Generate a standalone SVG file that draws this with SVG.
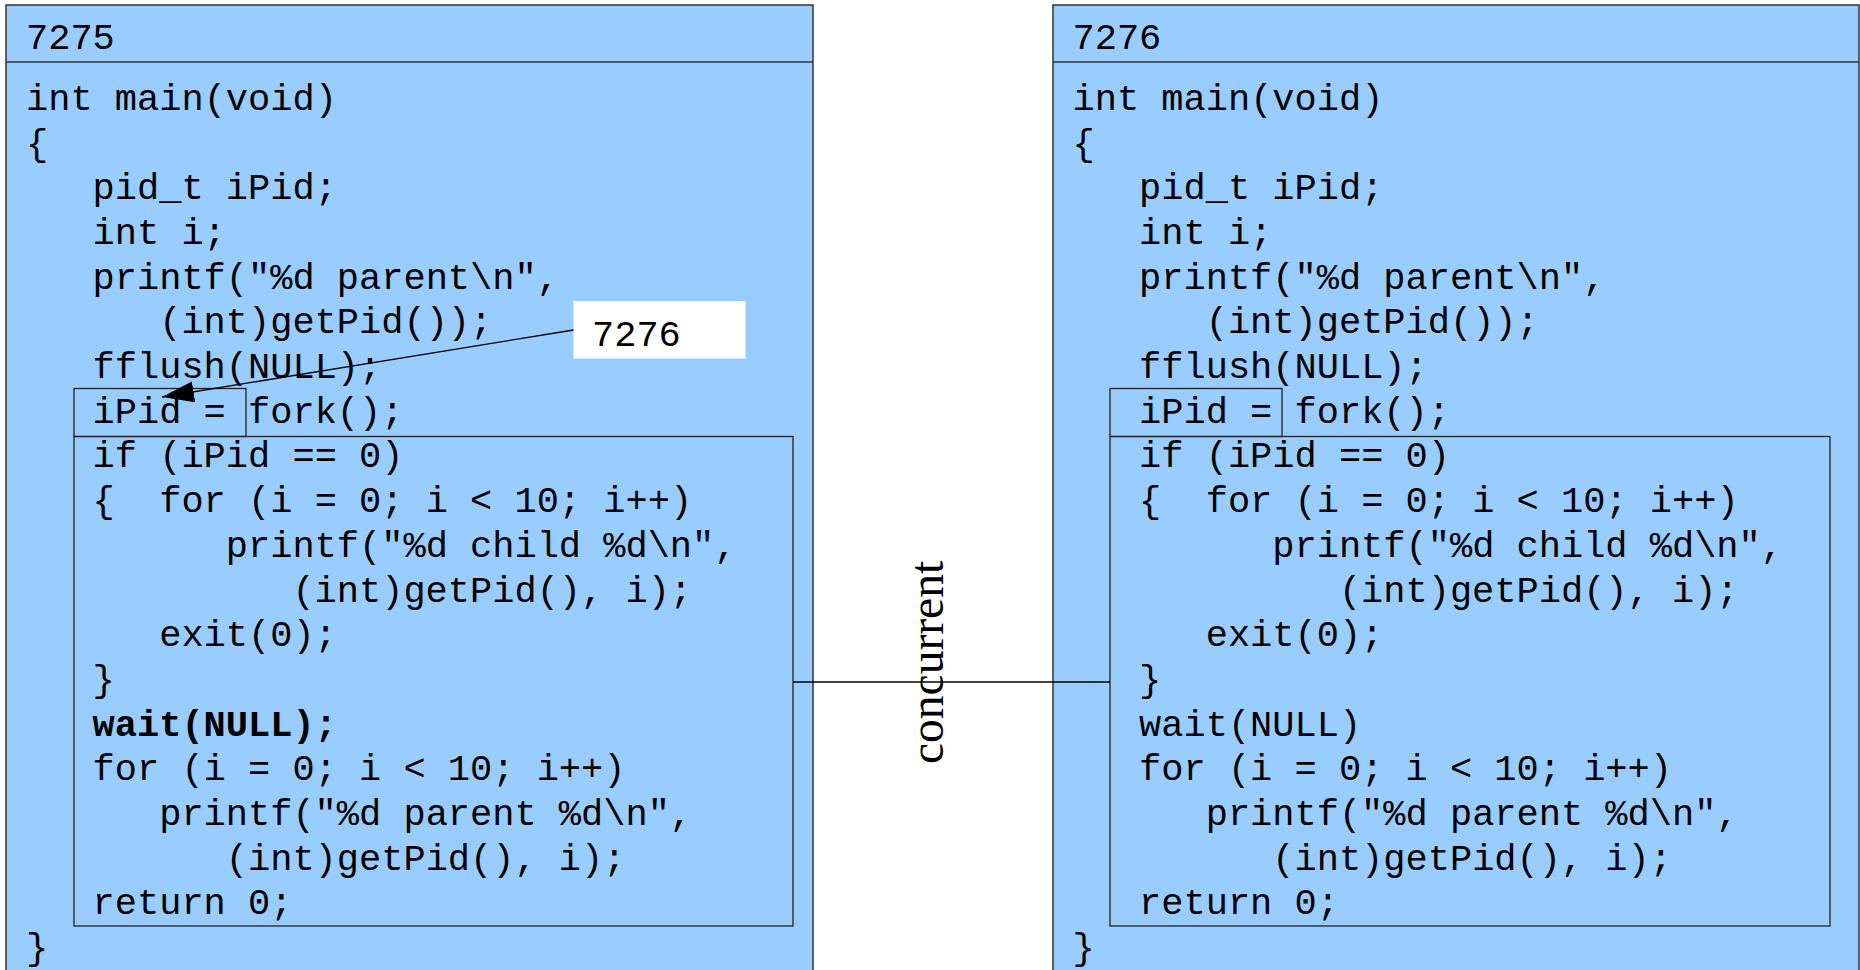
<svg xmlns="http://www.w3.org/2000/svg" width="1860" height="970" viewBox="0 0 1860 970">
<style>
.panel{fill:#99ccff;stroke:#333;stroke-width:1.5}
.hdr{stroke:#333;stroke-width:1.5}
.box{fill:none;stroke:#222;stroke-width:1.3}
.code{font-family:"Liberation Mono","Courier New",monospace;font-size:37px;fill:#000}
.bold{font-weight:bold}
.conn{stroke:#000;stroke-width:1.3;fill:none}
.lbl{font-family:"Liberation Serif","Times New Roman",serif;font-size:47.5px;fill:#000}
</style>
<defs>
<marker id="arr" markerUnits="userSpaceOnUse" markerWidth="34" markerHeight="22" refX="32" refY="10.5" orient="auto">
<path d="M0,0 L32,10.5 L0,21 z" fill="#000"/>
</marker>
</defs>
<rect width="1860" height="970" fill="#fff"/>

<g id="p7275">
<rect class="panel" x="6" y="5" width="807" height="980"/>
<line class="hdr" x1="6" y1="62" x2="813" y2="62"/>
<text class="code" x="26" y="49">7275</text>
<rect class="box" x="74" y="388.5" width="172" height="48"/>
<rect class="box" x="74" y="436.5" width="719" height="489.5"/>
<g class="code" transform="translate(2,1.5)">
<text x="24" y="108.3">int main(void)</text>
<text x="24" y="153">{</text>
<text x="90.6" y="197.7">pid_t iPid;</text>
<text x="90.6" y="242.4">int i;</text>
<text x="90.6" y="287.1">printf("%d parent\n",</text>
<text x="157.2" y="331.8">(int)getPid());</text>
<text x="90.6" y="376.5">fflush(NULL);</text>
<text x="90.6" y="421.2">iPid = fork();</text>
<text x="90.6" y="465.9">if (iPid == 0)</text>
<text x="90.6" y="510.6" xml:space="preserve">{  for (i = 0; i &lt; 10; i++)</text>
<text x="223.8" y="555.3">printf("%d child %d\n",</text>
<text x="290.4" y="600">(int)getPid(), i);</text>
<text x="157.2" y="644.7">exit(0);</text>
<text x="90.6" y="689.4">}</text>
<text x="90.6" y="734.1" class="bold">wait(NULL);</text>
<text x="90.6" y="778.8">for (i = 0; i &lt; 10; i++)</text>
<text x="157.2" y="823.5">printf("%d parent %d\n",</text>
<text x="223.8" y="868.2">(int)getPid(), i);</text>
<text x="90.6" y="912.9">return 0;</text>
<text x="24" y="957.6">}</text>
</g>
</g>

<g id="p7276">
<rect class="panel" x="1053" y="5" width="806" height="980"/>
<line class="hdr" x1="1053" y1="62" x2="1859" y2="62"/>
<text class="code" x="1072.5" y="49">7276</text>
<rect class="box" x="1110" y="388.5" width="172" height="48"/>
<rect class="box" x="1110" y="436.5" width="720" height="489.5"/>
<g class="code" transform="translate(2,1.5)">
<text x="1070.5" y="108.3">int main(void)</text>
<text x="1070.5" y="153">{</text>
<text x="1137.1" y="197.7">pid_t iPid;</text>
<text x="1137.1" y="242.4">int i;</text>
<text x="1137.1" y="287.1">printf("%d parent\n",</text>
<text x="1203.7" y="331.8">(int)getPid());</text>
<text x="1137.1" y="376.5">fflush(NULL);</text>
<text x="1137.1" y="421.2">iPid = fork();</text>
<text x="1137.1" y="465.9">if (iPid == 0)</text>
<text x="1137.1" y="510.6" xml:space="preserve">{  for (i = 0; i &lt; 10; i++)</text>
<text x="1270.3" y="555.3">printf("%d child %d\n",</text>
<text x="1336.9" y="600">(int)getPid(), i);</text>
<text x="1203.7" y="644.7">exit(0);</text>
<text x="1137.1" y="689.4">}</text>
<text x="1137.1" y="734.1">wait(NULL)</text>
<text x="1137.1" y="778.8">for (i = 0; i &lt; 10; i++)</text>
<text x="1203.7" y="823.5">printf("%d parent %d\n",</text>
<text x="1270.3" y="868.2">(int)getPid(), i);</text>
<text x="1137.1" y="912.9">return 0;</text>
<text x="1070.5" y="957.6">}</text>
</g>
</g>

<g id="callout">
<rect x="573.5" y="301" width="172" height="57.5" fill="#fff"/>
<text class="code" x="592" y="345.5">7276</text>
</g>

<g id="connectors">
<line class="conn" x1="573.5" y1="330" x2="162" y2="397" marker-end="url(#arr)"/>
<line class="conn" x1="793" y1="682" x2="1110" y2="682"/>
</g>

<g id="concurrent">
<text class="lbl" transform="translate(943,764) rotate(-90)">concurrent</text>
</g>
</svg>
